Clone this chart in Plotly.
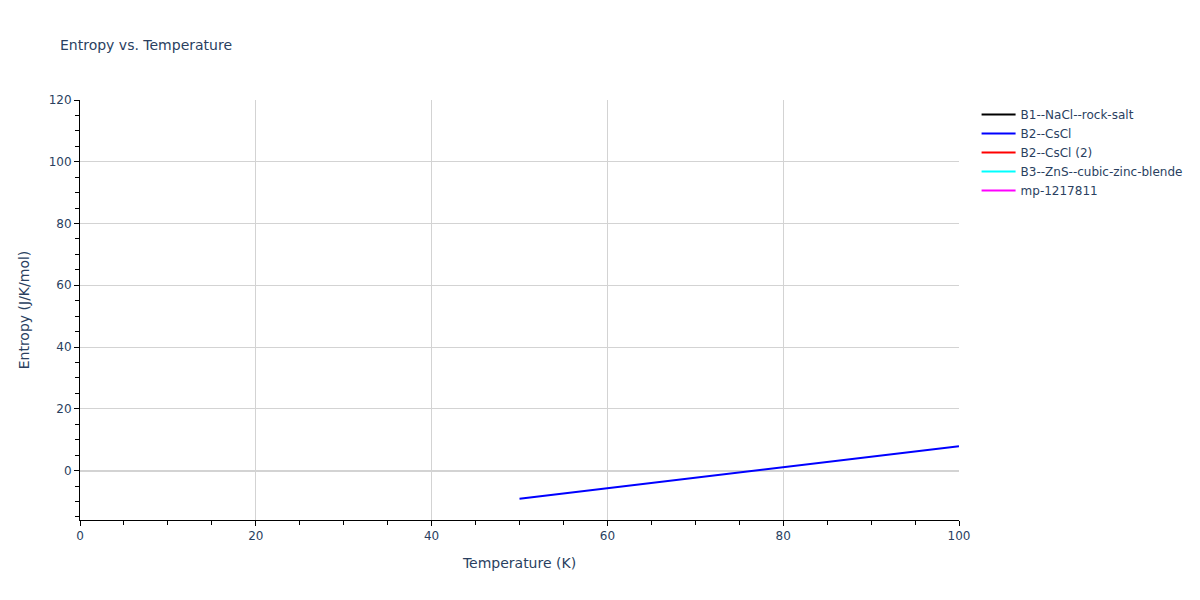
import plotly.graph_objects as go

# temperature grid (K) and entropy (J/K/mol) for each structure
names = ["B1--NaCl--rock-salt", "B2--CsCl", "B2--CsCl (2)",
         "B3--ZnS--cubic-zinc-blende", "mp-1217811"]
colors = ["black", "blue", "red", "cyan", "magenta"]

temps_b2 = [50, 60, 70, 80, 90, 100]
entropy_b2 = [-9.1, -5.7, -2.3, 1.1, 4.5, 7.9]

# only B2--CsCl has values inside the plotted window
series = {
    "B1--NaCl--rock-salt": ([None], [None]),
    "B2--CsCl": (temps_b2, entropy_b2),
    "B2--CsCl (2)": ([None], [None]),
    "B3--ZnS--cubic-zinc-blende": ([None], [None]),
    "mp-1217811": ([None], [None]),
}

fig = go.Figure()
for name, color in zip(names, colors):
    x, y = series[name]
    fig.add_trace(go.Scatter(x=x, y=y, mode="lines", name=name,
                             line=dict(color=color, width=2)))

axis_style = dict(
    showline=True, linecolor="black", linewidth=1,
    ticks="outside", tickcolor="black",
    gridcolor="lightgray", zerolinecolor="lightgray", zerolinewidth=2,
    minor=dict(ticks="outside", tickcolor="black", ticklen=4, dtick=5),
)

fig.update_layout(
    title=dict(text="Entropy vs. Temperature", font=dict(size=14)),
    font=dict(family="Verdana, DejaVu Sans"),
    plot_bgcolor="white",
    paper_bgcolor="white",
    width=1200, height=600,
    xaxis=dict(title="Temperature (K)", range=[0, 100], **axis_style),
    yaxis=dict(title="Entropy (J/K/mol)", range=[-16, 120], **axis_style),
    showlegend=True,
    legend=dict(itemwidth=34),
)

# drop the page's default body margin so the figure sits at the top-left
fig.write_html("out.html", config={"displayModeBar": False},
               post_script="document.body.style.margin='0';")
